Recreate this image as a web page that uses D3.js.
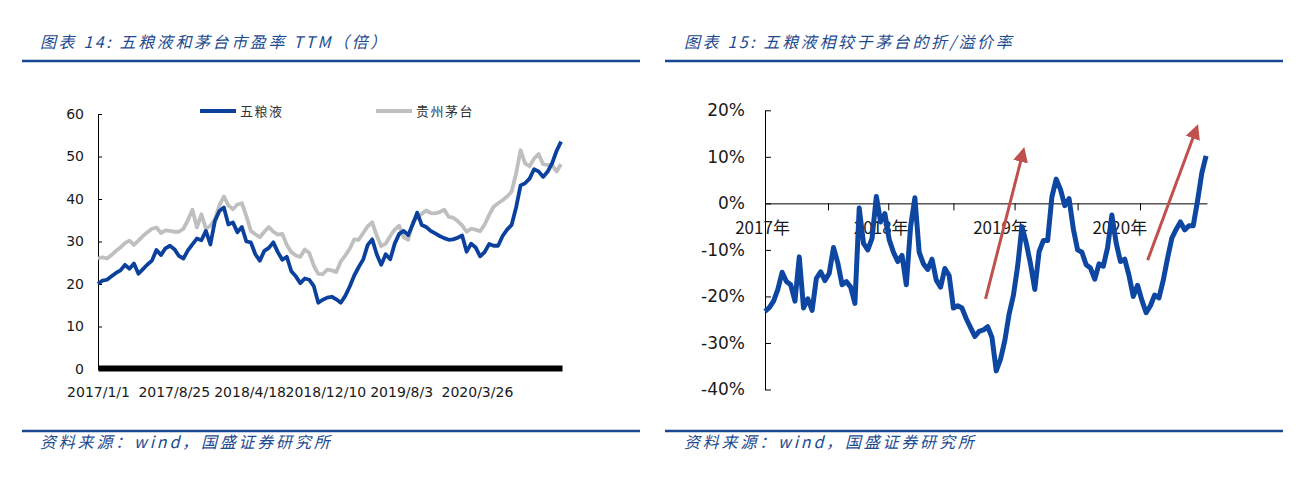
<!DOCTYPE html>
<html>
<head>
<meta charset="utf-8">
<script src="https://cdn.jsdelivr.net/npm/d3@7"></script>
<style>
  body { margin: 0; background: #fff; }
  text { font-family: "DejaVu Sans", sans-serif; fill: #1a1a1a; }
  .cjk { font-family: "Noto Sans CJK SC", sans-serif; }
</style>
</head>
<body>
<div id="chart"></div>
<script>
// ---- data (one point every two weeks) ----
const dates = [
  "2017-01-01","2017-01-15","2017-01-29","2017-02-12","2017-02-26","2017-03-12","2017-03-26","2017-04-09","2017-04-23","2017-05-07",
  "2017-05-21","2017-06-04","2017-06-18","2017-07-02","2017-07-16","2017-07-30","2017-08-13","2017-08-27","2017-09-10","2017-09-24",
  "2017-10-08","2017-10-22","2017-11-05","2017-11-19","2017-12-03","2017-12-17","2017-12-31","2018-01-14","2018-01-28","2018-02-11",
  "2018-02-25","2018-03-11","2018-03-25","2018-04-08","2018-04-22","2018-05-06","2018-05-20","2018-06-03","2018-06-17","2018-07-01",
  "2018-07-15","2018-07-29","2018-08-12","2018-08-26","2018-09-09","2018-09-23","2018-10-07","2018-10-21","2018-11-04","2018-11-18",
  "2018-12-02","2018-12-16","2018-12-30","2019-01-13","2019-01-27","2019-02-10","2019-02-24","2019-03-10","2019-03-24","2019-04-07",
  "2019-04-21","2019-05-05","2019-05-19","2019-06-02","2019-06-16","2019-06-30","2019-07-14","2019-07-28","2019-08-11","2019-08-25",
  "2019-09-08","2019-09-22","2019-10-06","2019-10-20","2019-11-03","2019-11-17","2019-12-01","2019-12-15","2019-12-29","2020-01-12",
  "2020-01-26","2020-02-09","2020-02-23","2020-03-08","2020-03-22","2020-04-05","2020-04-19","2020-05-03","2020-05-17","2020-05-31",
  "2020-06-14","2020-06-28","2020-07-12","2020-07-26","2020-08-09","2020-08-23","2020-09-06","2020-09-20","2020-10-04","2020-10-18",
  "2020-11-01","2020-11-15","2020-11-29","2020-12-13"
];

const wuliangyePE = [
  20.0,20.8,21.0,21.8,22.6,23.2,24.5,23.6,24.8,22.4,
  23.5,24.6,25.5,28.0,26.8,28.4,29.0,28.2,26.6,26.0,
  27.9,29.3,30.7,30.3,32.5,29.3,34.8,37.2,38.0,34.0,
  34.5,32.2,33.4,30.0,29.8,27.0,25.5,27.8,28.5,29.8,
  27.5,25.7,26.4,23.0,21.8,20.2,21.3,21.0,19.5,15.6,
  16.3,16.8,17.0,16.4,15.6,17.2,19.4,22.0,24.0,25.8,
  29.2,30.5,27.0,24.5,27.0,25.8,29.5,31.8,32.5,31.5,
  34.0,36.8,33.9,33.4,32.5,31.9,31.3,30.8,30.4,30.5,
  30.9,31.4,27.6,29.5,28.6,26.5,27.5,29.4,29.0,29.0,
  31.3,32.8,33.9,38.0,43.2,43.7,44.8,47.0,46.5,45.2,
  46.4,48.4,51.3,53.5
];

const moutaiPE = [
  26.0,26.3,26.0,26.8,27.8,28.6,29.6,30.2,29.2,30.2,
  31.3,32.2,33.0,33.3,32.0,32.6,32.5,32.3,32.3,33.0,
  35.0,37.5,33.3,36.4,33.0,33.7,35.2,38.5,40.6,38.5,
  37.6,38.7,39.0,36.0,32.5,31.7,31.0,32.3,33.4,32.3,
  31.6,31.8,29.2,27.5,26.7,26.4,28.1,27.3,24.3,22.4,
  22.3,23.4,23.2,22.8,25.3,26.7,28.3,30.5,30.4,32.0,
  33.6,34.5,31.4,28.9,29.5,31.3,32.8,33.7,31.0,30.4,
  34.5,35.6,36.5,37.3,36.7,36.6,36.9,37.5,35.8,35.6,
  34.8,33.8,32.3,33.0,32.8,32.4,34.0,36.2,38.2,39.0,
  39.7,40.6,41.7,46.0,51.5,48.4,47.7,49.5,50.6,48.2,
  48.0,48.0,46.5,48.2
];

// 五粮液相较于茅台的折/溢价率 (%)
const premium = [
  -23.2,-22.4,-21.0,-18.5,-14.8,-16.8,-17.5,-21.0,-11.5,-22.5,
  -20.5,-23.0,-16.1,-14.7,-16.6,-15.0,-9.5,-12.8,-17.5,-16.8,
  -18.0,-21.5,-1.0,-8.6,-10.0,-7.5,1.5,-4.0,-2.2,-7.8,
  -10.5,-12.5,-11.2,-17.5,-5.0,1.2,-10.5,-13.0,-14.2,-12.0,
  -16.5,-18.0,-14.0,-15.5,-22.5,-22.0,-22.5,-24.8,-26.7,-28.6,
  -27.5,-27.2,-26.5,-28.8,-36.0,-33.5,-29.5,-23.8,-19.8,-13.5,
  -5.0,-8.5,-13.0,-18.5,-10.4,-8.0,-8.0,1.4,5.2,3.0,
  -0.5,1.0,-5.5,-10.0,-10.5,-13.2,-13.9,-16.3,-13.0,-13.5,
  -9.5,-2.5,-8.5,-12.5,-12.0,-15.5,-20.0,-17.6,-20.8,-23.5,
  -22.0,-19.7,-20.3,-16.5,-11.8,-7.5,-5.6,-4.0,-5.7,-4.8,
  -4.8,0.5,6.5,10.2
];

const seriesNames = ["五粮液", "贵州茅台"];
const peTickLabels = ["2017/1/1", "2017/8/25", "2018/4/18", "2018/12/10", "2019/8/3", "2020/3/26"];
const peYTicks = [0, 10, 20, 30, 40, 50, 60];
const premiumYTicks = [-40, -30, -20, -10, 0, 10, 20];
const premiumTickDates = ["2017-07-26", "2018-02-08", "2018-09-09", "2019-03-28", "2019-10-20", "2020-05-11"];
const yearLabels = ["2017年", "2018年", "2019年", "2020年"];
const yearLabelDates = ["2016-12-24", "2018-01-16", "2019-02-10", "2020-03-06"];
const arrowStarts = [["2018-12-23", -20.5], ["2020-06-05", -12.2]];
const arrowEnds = [["2019-04-19", 9.6], ["2020-11-03", 14.6]];

// ---- setup ----
const W = 1308, H = 477;
const parseDay = d3.timeParse("%Y-%m-%d");
const parseSlash = d3.timeParse("%Y/%m/%d");
const days = dates.map(parseDay);
const domainDates = [parseDay("2017-01-01"), parseDay("2020-12-16")];

const BLUE_TEXT = "#1d4b8f";
const RULE = "#1a4791";

const svg = d3.select("#chart").append("svg")
  .attr("width", W)
  .attr("height", H);

svg.append("rect").attr("width", W).attr("height", H).attr("fill", "#fff");

// header / footer rules and captions
const panels = [
  { x0: 22, x1: 640, tx: 40, title: "图表 14:  五粮液和茅台市盈率 TTM（倍）" },
  { x0: 665, x1: 1283, tx: 684, title: "图表 15:  五粮液相较于茅台的折/溢价率" }
];
panels.forEach(p => {
  svg.append("line").attr("x1", p.x0).attr("x2", p.x1).attr("y1", 61).attr("y2", 61)
    .attr("stroke", RULE).attr("stroke-width", 2.5);
  svg.append("line").attr("x1", p.x0).attr("x2", p.x1).attr("y1", 431).attr("y2", 431)
    .attr("stroke", RULE).attr("stroke-width", 2.5);
  svg.append("text").attr("class", "cjk")
    .attr("x", p.tx).attr("y", 48)
    .attr("font-size", 16).attr("font-style", "italic").attr("letter-spacing", 2.6)
    .style("fill", BLUE_TEXT)
    .text(p.title);
  svg.append("text").attr("class", "cjk")
    .attr("x", p.tx).attr("y", 448)
    .attr("font-size", 16).attr("font-style", "italic").attr("letter-spacing", 2.8)
    .style("fill", BLUE_TEXT)
    .text("资料来源：wind，国盛证券研究所");
});

// ---- left chart: PE TTM ----
const x1 = d3.scaleTime().domain(domainDates).range([98, 562]);
const y1 = d3.scaleLinear().domain([0, 60]).range([369, 114]);

// y axis
const yAxis1 = svg.append("g")
  .attr("transform", "translate(98,0)")
  .call(d3.axisLeft(y1).tickValues(peYTicks).tickSizeInner(-4).tickSizeOuter(0).tickPadding(14));
yAxis1.selectAll("text").attr("font-size", 14).style("font-family", "DejaVu Sans");
yAxis1.selectAll("path,line").attr("stroke", "#000");

// series
const line1 = (vals) => d3.line()
  .x((d, i) => x1(days[i]))
  .y(d => y1(d))(vals);

svg.append("path")
  .attr("d", line1(moutaiPE))
  .attr("fill", "none").attr("stroke", "#bfbfbf").attr("stroke-width", 3.8)
  .attr("stroke-linejoin", "round");
svg.append("path")
  .attr("d", line1(wuliangyePE))
  .attr("fill", "none").attr("stroke", "#0b409c").attr("stroke-width", 3.8)
  .attr("stroke-linejoin", "round");

// x axis: thick black bar with date labels
const xAxis1 = svg.append("g")
  .attr("transform", "translate(0,368)")
  .call(d3.axisBottom(x1)
    .tickValues(peTickLabels.map(parseSlash))
    .tickSize(0).tickPadding(19)
    .tickFormat(d3.timeFormat("%Y/%-m/%-d")));
xAxis1.select(".domain").attr("stroke", "#000").attr("stroke-width", 6);
xAxis1.selectAll("text").attr("font-size", 14).style("font-family", "DejaVu Sans");

// legend
const legendColors = ["#0b409c", "#bfbfbf"];
const legendX = [200, 376];
seriesNames.forEach((name, i) => {
  svg.append("line")
    .attr("x1", legendX[i]).attr("x2", legendX[i] + 36)
    .attr("y1", 111).attr("y2", 111)
    .attr("stroke", legendColors[i]).attr("stroke-width", 4);
  svg.append("text").attr("class", "cjk")
    .attr("x", legendX[i] + 40).attr("y", 116)
    .attr("font-size", 13).attr("letter-spacing", 1.5)
    .style("fill", "#333")
    .text(name);
});

// ---- right chart: premium / discount ----
const x2 = d3.scaleTime().domain(domainDates).range([765, 1207]);
const y2 = d3.scaleLinear().domain([-40, 20]).range([389.5, 110.3]);

const yAxis2 = svg.append("g")
  .attr("transform", "translate(765,0)")
  .call(d3.axisLeft(y2).tickValues(premiumYTicks).tickSizeInner(-6).tickSizeOuter(0)
    .tickPadding(20).tickFormat(d => d + "%"));
yAxis2.selectAll("text").attr("font-size", 17).style("font-family", "DejaVu Sans");
yAxis2.selectAll("path,line").attr("stroke", "#000");

const zeroAxis = svg.append("g")
  .attr("transform", `translate(0,${y2(0)})`)
  .call(d3.axisBottom(x2).tickValues(premiumTickDates.map(parseDay))
    .tickSizeInner(7).tickSizeOuter(0).tickFormat(""));
zeroAxis.selectAll("path,line").attr("stroke", "#000");

svg.append("g").selectAll("text")
  .data(yearLabels)
  .join("text")
  .attr("class", "cjk")
  .attr("x", (d, i) => x2(parseDay(yearLabelDates[i])))
  .attr("y", y2(0) + 31)
  .attr("text-anchor", "middle")
  .attr("font-size", 17)
  .text(d => d);

svg.append("path")
  .attr("d", d3.line()
    .x((d, i) => x2(days[i]))
    .y(d => y2(d))(premium))
  .attr("fill", "none").attr("stroke", "#0d47a1").attr("stroke-width", 5)
  .attr("stroke-linejoin", "round");

// arrows
svg.append("defs").append("marker")
  .attr("id", "arrowhead")
  .attr("viewBox", "0 0 10 10")
  .attr("refX", 2).attr("refY", 5)
  .attr("markerWidth", 5).attr("markerHeight", 5)
  .attr("orient", "auto")
  .append("path").attr("d", "M0,0L10,5L0,10z").attr("fill", "#c0504d");

arrowStarts.forEach((s, i) => {
  const e = arrowEnds[i];
  svg.append("line")
    .attr("x1", x2(parseDay(s[0]))).attr("y1", y2(s[1]))
    .attr("x2", x2(parseDay(e[0]))).attr("y2", y2(e[1]))
    .attr("stroke", "#c0504d").attr("stroke-width", 3)
    .attr("marker-end", "url(#arrowhead)");
});
</script>
</body>
</html>
